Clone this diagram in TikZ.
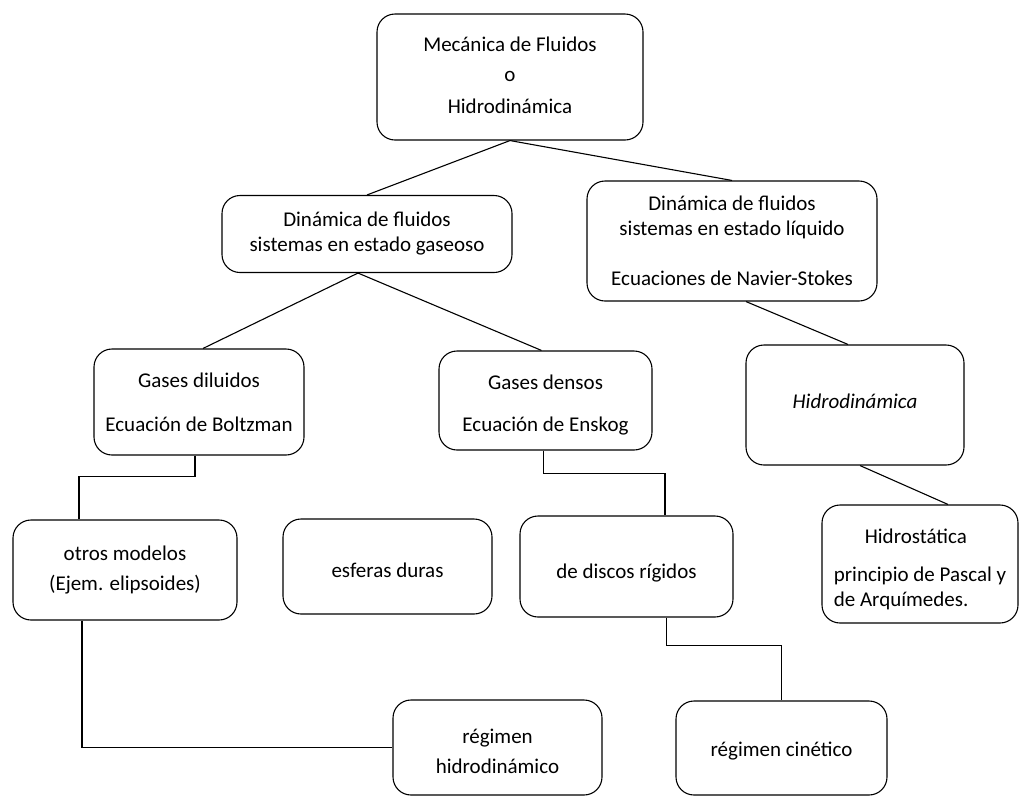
\documentclass[tikz,border=0pt]{standalone}
\usepackage{fontspec}
\setmainfont{Carlito}
\usetikzlibrary{calc}

% baja el texto sin cambiar la caja
\newcommand\lowerby[2]{\raisebox{-#1}[\height][\depth]{#2}}

\begin{document}
\begin{tikzpicture}[
  x=1pt, y=-1pt,
  font=\fontsize{21pt}{25pt}\selectfont,
  link/.style={line width=1.1pt},
  box/.style={
    draw,
    line width=1.1pt,
    rounded corners=18pt,
    inner sep=0pt,
    align=center
  }
]
\useasboundingbox (0,0) rectangle (1020,796);

\node[box, minimum width=266pt, minimum height=126pt] (mecanica) at (510,77)
  {\lowerby{-2pt}{Mecánica de Fluidos}\\[3pt]o\\[9pt]\lowerby{-2pt}{Hidrodinámica}};

\node[box, minimum width=290pt, minimum height=77pt] (gaseoso) at (367,234)
  {Dinámica de fluidos\\sistemas en estado gaseoso};
\node[box, minimum width=290pt, minimum height=120pt] (liquido) at (732,241)
  {Dinámica de fluidos\\sistemas en estado líquido\\[25pt]Ecuaciones de Navier-Stokes};

\node[box, minimum width=210pt, minimum height=106pt] (diluidos) at (199,402)
  {Gases diluidos\\[19pt]Ecuación de Boltzman};
\node[box, minimum width=213pt, minimum height=99pt] (densos) at (545.5,400.5)
  {\lowerby{4.5pt}{Gases densos}\\[17pt]\lowerby{4.5pt}{Ecuación de Enskog}};
\node[box, minimum width=218pt, minimum height=120pt] (hidro) at (855,405)
  {\lowerby{-4pt}{\itshape Hidrodinámica}};

\node[box, minimum width=224pt, minimum height=100pt] (otros) at (125,570)
  {otros modelos\\[5pt](Ejem. elipsoides)};
\node[box, minimum width=209pt, minimum height=95pt] (esferas) at (387.5,566.5)
  {\lowerby{4pt}{esferas duras}};
\node[box, minimum width=213pt, minimum height=101pt] (discos) at (626.5,566.5)
  {\lowerby{7pt}{de discos rígidos}};
\node[box, minimum width=196pt, minimum height=118pt, align=left] (hidrostatica) at (920,564)
  {\lowerby{5pt}{\hspace*{31pt}Hidrostática}\\[13pt]\lowerby{5pt}{principio de Pascal y}\\
   \lowerby{5pt}{de Arquímedes.}};

\node[box, minimum width=209pt, minimum height=95pt] (hidrodinamico) at (497.5,747.5)
  {\lowerby{4pt}{régimen}\\[5pt]\lowerby{4pt}{hidrodinámico}};
\node[box, minimum width=211pt, minimum height=94pt] (cinetico) at (781.5,748)
  {\lowerby{3pt}{régimen cinético}};

% ramas
\draw[link] (mecanica.south) -- (gaseoso.north);
\draw[link] (mecanica.south) -- (liquido.north);
\draw[link] ([xshift=-9pt]gaseoso.south) -- ([xshift=4pt]diluidos.north);
\draw[link] ([xshift=-9pt]gaseoso.south) -- ([xshift=-4pt]densos.north);
\draw[link] ([xshift=14pt]liquido.south) -- ([xshift=-7pt]hidro.north);
\draw[link] ([xshift=5pt]hidro.south) -- ([xshift=28pt]hidrostatica.north);

% codos
\draw[link] ([xshift=-4pt]diluidos.south) -- ++(0,21) -| ([xshift=-46pt]otros.north);
\draw[link] ([xshift=-2pt]densos.south) -- ++(0,23) -| ([xshift=38.5pt]discos.north);
\draw[link] ([xshift=-43pt]otros.south) |- (hidrodinamico.west);
\draw[link] ([xshift=40pt]discos.south) -- ++(0,28) -| (cinetico.north);

\end{tikzpicture}
\end{document}
